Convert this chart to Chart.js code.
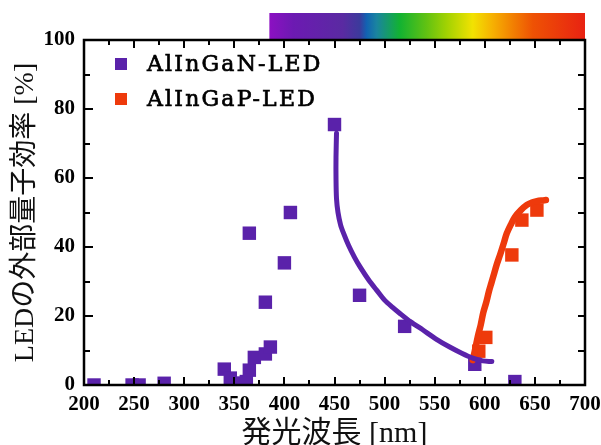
<!DOCTYPE html>
<html>
<head>
<meta charset="utf-8">
<script src="https://cdn.jsdelivr.net/npm/chart.js@4/dist/chart.umd.min.js"></script>
<style>
  html, body { margin: 0; padding: 0; background: #ffffff; }
  #wrap { width: 601px; height: 445px; }
</style>
</head>
<body>
<div id="wrap"><canvas id="c" width="601" height="445"></canvas></div>
<script>
// Series names
const seriesNames = ['AlInGaN-LED', 'AlInGaP-LED'];

// AlInGaN-LED measurements: wavelength [nm] and external quantum efficiency [%]
const ganWavelength = [210, 248, 255, 280, 340, 346, 352, 358, 362, 365, 365, 370, 381, 381, 386, 400, 406, 450, 475, 520, 590, 630];
const ganEfficiency = [0, 0, 0, 0.5, 4.6, 2, 0.5, 0.5, 1, 44, 4.3, 8, 9, 24, 11, 35.4, 50, 75.5, 26, 17, 6, 1];

// AlInGaP-LED measurements
const gapWavelength = [594, 601, 627, 637, 652];
const gapEfficiency = [9.8, 13.8, 37.7, 47.8, 50.7];

// Trend curves
const ganTrendWavelength = [452, 451.5, 451.5, 452, 453.5, 456, 459, 464, 470, 476, 484, 492, 500, 508, 515, 526, 538, 551, 565, 577, 588, 598, 607];
const ganTrendEfficiency = [73, 66, 60, 54, 50, 46.5, 44, 40.5, 37, 34, 30.5, 27.5, 24.6, 22.5, 20.8, 18.3, 16, 13.4, 11, 9.2, 7.8, 7, 6.8];
const gapTrendWavelength = [588, 590.5, 593, 596, 598.5, 601.5, 604, 606.5, 609, 612, 615.5, 619, 622, 626, 630, 636, 642, 647, 652, 657, 661];
const gapTrendEfficiency = [7.2, 10.5, 14, 17.5, 21, 24, 27, 29.5, 32, 35, 38, 41.2, 44, 46.5, 48.7, 50.7, 52.2, 52.9, 53.3, 53.5, 53.6];

// Axis ticks
const xTicks = [200, 250, 300, 350, 400, 450, 500, 550, 600, 650, 700];
const yTicks = [0, 20, 40, 60, 80, 100];

// Visible spectrum band above the plot (wavelength [nm], colour)
const spectrumStops = [
  [385, '#8c10c2'], [409, '#6c1ab2'], [458, '#5a2aa2'], [475, '#3c3a9c'],
  [482, '#1262b2'], [492, '#1a84a0'], [515, '#12b232'], [542, '#62c212'],
  [562, '#a2d202'], [588, '#f2e202'], [608, '#f6b002'], [628, '#f28002'],
  [648, '#ee5204'], [700, '#e82212']
];

const PURPLE = '#5a22aa';
const RED = '#ee3a0c';

const toPoints = (xs, ys) => xs.map((x, i) => ({ x: x, y: ys[i] }));

const spectrumAndFrame = {
  id: 'spectrumAndFrame',
  beforeDraw(chart) {
    const { ctx, chartArea } = chart;
    const xs = chart.scales.x;
    const lo = spectrumStops[0][0], hi = spectrumStops[spectrumStops.length - 1][0];
    const x0 = xs.getPixelForValue(lo), x1 = xs.getPixelForValue(hi);
    const g = ctx.createLinearGradient(x0, 0, x1, 0);
    spectrumStops.forEach(([nm, c]) => g.addColorStop((nm - lo) / (hi - lo), c));
    ctx.save();
    ctx.fillStyle = g;
    ctx.fillRect(x0, 13, x1 - x0, chartArea.top - 13);
    ctx.restore();
  },
  afterDatasetsDraw(chart) {
    const { ctx, chartArea: a } = chart;
    const xs = chart.scales.x, ys = chart.scales.y;
    ctx.save();
    ctx.strokeStyle = '#000';
    ctx.lineWidth = 2;
    ctx.beginPath();
    for (let v = 225; v < 700; v += 25) {
      const px = Math.round(xs.getPixelForValue(v));
      const major = v % 50 === 0;
      ctx.moveTo(px, a.bottom); ctx.lineTo(px, a.bottom - (major ? 8 : 5));
      ctx.moveTo(px, a.top); ctx.lineTo(px, a.top + (major ? 8 : 5));
    }
    for (let v = 10; v < 100; v += 10) {
      const py = Math.round(ys.getPixelForValue(v));
      const major = v % 20 === 0;
      ctx.moveTo(a.left, py); ctx.lineTo(a.left + (major ? 9 : 6), py);
      ctx.moveTo(a.right, py); ctx.lineTo(a.right - 7, py);
    }
    ctx.stroke();
    ctx.lineWidth = 2.5;
    ctx.strokeRect(a.left, a.top, a.right - a.left, a.bottom - a.top);
    ctx.restore();
  }
};

const insideLegend = {
  id: 'insideLegend',
  afterDraw(chart) {
    const { ctx } = chart;
    const items = [
      { text: seriesNames[0], color: PURPLE, y: 64 },
      { text: seriesNames[1], color: RED, y: 99 }
    ];
    ctx.save();
    ctx.font = '22px "DejaVu Serif", serif';
    ctx.letterSpacing = '2.2px';
    ctx.textBaseline = 'middle';
    ctx.lineWidth = 0.7;
    items.forEach(it => {
      ctx.fillStyle = it.color;
      ctx.fillRect(115, it.y - 6, 12, 12);
      ctx.fillStyle = '#000';
      ctx.strokeStyle = '#000';
      ctx.fillText(it.text, 147, it.y + 1);
      ctx.strokeText(it.text, 147, it.y + 1);
    });
    ctx.restore();
  }
};

const tickFont = { family: '"Liberation Serif", serif', size: 21, weight: 'bold' };
const yTitleFont = { family: '"Liberation Serif", "Noto Sans CJK JP", serif', size: 28, weight: 'normal', lineHeight: 1 };
const xTitleFont = { family: '"Liberation Serif", "Noto Sans CJK JP", serif', size: 30, weight: 'normal', lineHeight: 1 };

new Chart(document.getElementById('c'), {
  type: 'scatter',
  data: {
    datasets: [
      {
        label: seriesNames[0] + ' trend',
        data: toPoints(ganTrendWavelength, ganTrendEfficiency),
        showLine: true, tension: 0.3, pointRadius: 0,
        borderColor: PURPLE, borderWidth: 5, borderCapStyle: 'round'
      },
      {
        label: seriesNames[1] + ' trend',
        data: toPoints(gapTrendWavelength, gapTrendEfficiency),
        showLine: true, tension: 0.3, pointRadius: 0,
        borderColor: RED, borderWidth: 6.5, borderCapStyle: 'round'
      },
      {
        label: seriesNames[0],
        data: toPoints(ganWavelength, ganEfficiency),
        pointStyle: 'rect', pointRadius: 9.5, pointBorderWidth: 0,
        backgroundColor: PURPLE, borderColor: PURPLE, clip: 0
      },
      {
        label: seriesNames[1],
        data: toPoints(gapWavelength, gapEfficiency),
        pointStyle: 'rect', pointRadius: 9.5, pointBorderWidth: 0,
        backgroundColor: RED, borderColor: RED, clip: 0
      }
    ]
  },
  options: {
    responsive: false,
    animation: false,
    devicePixelRatio: 1,
    layout: { padding: { top: 40, right: 16, left: 0, bottom: 0 } },
    plugins: { legend: { display: false }, tooltip: { enabled: false } },
    scales: {
      x: {
        type: 'linear', min: 200, max: 700,
        grid: { display: false, drawTicks: false },
        border: { display: false },
        afterBuildTicks: s => { s.ticks = xTicks.map(v => ({ value: v })); },
        afterFit: s => { s.height = 60; s.paddingLeft = 0; s.paddingRight = 0; },
        ticks: { font: tickFont, color: '#000', padding: 7, autoSkip: false, maxRotation: 0 },
        title: { display: true, text: '発光波長 [nm]', font: xTitleFont, color: '#111', padding: { top: 0, bottom: -4 } }
      },
      y: {
        type: 'linear', min: 0, max: 100,
        grid: { display: false, drawTicks: false },
        border: { display: false },
        afterBuildTicks: s => { s.ticks = yTicks.map(v => ({ value: v })); },
        afterFit: s => { s.width = 84; s.paddingTop = 0; s.paddingBottom = 0; },
        ticks: { font: tickFont, color: '#000', padding: 9, autoSkip: false },
        title: { display: true, text: 'LEDの外部量子効率 [%]', font: yTitleFont, color: '#111', padding: { top: 12, bottom: 0 } }
      }
    }
  },
  plugins: [spectrumAndFrame, insideLegend]
});
</script>
</body>
</html>
